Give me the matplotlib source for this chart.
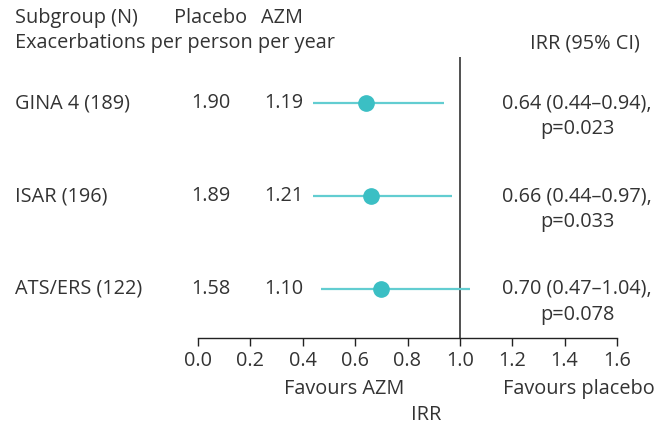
import matplotlib
matplotlib.use("Agg")
import matplotlib.pyplot as plt
import matplotlib.transforms as mtransforms

# -------------------------------------------------------------------
# Data
# -------------------------------------------------------------------
subgroups = ["GINA 4 (189)", "ISAR (196)", "ATS/ERS (122)"]
placebo_rate = ["1.90", "1.89", "1.58"]
azm_rate = ["1.19", "1.21", "1.10"]
irr = [0.64, 0.66, 0.70]
ci_low = [0.44, 0.44, 0.47]
ci_high = [0.94, 0.97, 1.04]
p_values = ["0.023", "0.033", "0.078"]
xticks = [0.0, 0.2, 0.4, 0.6, 0.8, 1.0, 1.2, 1.4, 1.6]

# -------------------------------------------------------------------
# Style
# -------------------------------------------------------------------
plt.rcParams["font.family"] = ["Open Sans", "DejaVu Sans"]
TEXT = "#333333"
TEAL = "#3bbfc4"
TEAL_LINE = "#62cdd1"
FS = 14.3

W, H = 671, 425
fig = plt.figure(figsize=(W / 100, H / 100), dpi=100)
ax = fig.add_axes([198 / W, 1 - 338 / H, (617 - 198) / W, (338 - 57) / H])

rows = [3, 2, 1]
ax.set_xlim(0, 1.6)
ax.set_ylim(0.473, 3.495)

# CI lines and point estimates
for y, est, lo, hi in zip(rows, irr, ci_low, ci_high):
    ax.plot([lo, hi], [y, y], color=TEAL_LINE, lw=1.6, solid_capstyle="butt", zorder=2)
    ax.plot(est, y, "o", color=TEAL, markersize=11, zorder=3)

ax.axvline(1.0, color="#222222", lw=1.1, zorder=1)

# axis cosmetics
for s in ["left", "right", "top"]:
    ax.spines[s].set_visible(False)
ax.spines["bottom"].set_color("#222222")
ax.spines["bottom"].set_linewidth(1.0)
ax.set_yticks([])
ax.set_xticks(xticks)
ax.set_xticklabels([f"{t:.1f}" for t in xticks], fontsize=FS, color=TEXT)
ax.tick_params(axis="x", length=5.5, width=1.0, color="#222222", pad=4)

# -------------------------------------------------------------------
# Text columns
# -------------------------------------------------------------------
def fx(px):
    return px / W

def fy(py):
    return 1 - py / H

row_tr = mtransforms.blended_transform_factory(fig.transFigure, ax.transData)
for y, name, pl, az, est, lo, hi, p in zip(rows, subgroups, placebo_rate, azm_rate,
                                           irr, ci_low, ci_high, p_values):
    fig.text(fx(15), y, name, transform=row_tr, fontsize=FS, color=TEXT, va="center")
    fig.text(fx(211), y, pl, transform=row_tr, fontsize=FS, color=TEXT, va="center", ha="center")
    fig.text(fx(284), y, az, transform=row_tr, fontsize=FS, color=TEXT, va="center", ha="center")
    fig.text(fx(577), y, f"{est:.2f} ({lo:.2f}\u2013{hi:.2f}),", transform=row_tr,
             fontsize=FS, color=TEXT, va="center", ha="center")
    fig.text(fx(577), y - 26 / 93, f"p={p}", transform=row_tr,
             fontsize=FS, color=TEXT, va="center", ha="center")

# header
fig.text(fx(15), fy(18), "Subgroup (N)", fontsize=FS, color=TEXT, va="center")
fig.text(fx(211), fy(18), "Placebo", fontsize=FS, color=TEXT, va="center", ha="center")
fig.text(fx(282), fy(18), "AZM", fontsize=FS, color=TEXT, va="center", ha="center")
fig.text(fx(15), fy(43), "Exacerbations per person per year", fontsize=FS, color=TEXT, va="center")
fig.text(fx(640), fy(43), "IRR (95% CI)", fontsize=FS, color=TEXT, va="center", ha="right")

# footer
fig.text(fx(344), fy(389), "Favours AZM", fontsize=FS, color=TEXT, va="center", ha="center")
fig.text(fx(579), fy(389), "Favours placebo", fontsize=FS, color=TEXT, va="center", ha="center")
fig.text(fx(426), fy(415), "IRR", fontsize=FS, color=TEXT, va="center", ha="center")

fig.savefig("out.png", dpi=100)
